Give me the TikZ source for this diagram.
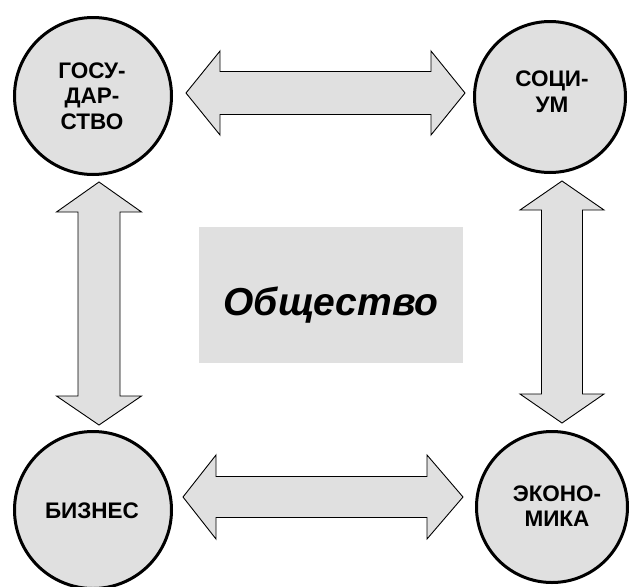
\documentclass[tikz,border=0pt]{standalone}
\usepackage{fontspec}
\setmainfont{Liberation Sans}
\definecolor{boxgray}{HTML}{E0E0E0}
\begin{document}
\begin{tikzpicture}[x=1pt,y=-1pt,
  sphere/.style={circle,draw=black,line width=3pt,fill=boxgray,inner sep=0pt,minimum size=#1},
  sphtext/.style={align=center,inner sep=0pt,font=\fontsize{22.5}{25.5}\selectfont\bfseries},
  bigarrow/.style={draw=black,line width=0.9pt,fill=boxgray,line join=miter},
  centerbox/.style={fill=boxgray,minimum width=264pt,minimum height=136pt,inner sep=0pt},
  boxtext/.style={inner sep=0pt,font=\fontsize{39}{46}\selectfont\bfseries\itshape}]
\useasboundingbox (0,0) rectangle (630,587);
\fill[white] (0,0) rectangle (630,587);
% central box
\node[centerbox] (soc) at (331,295) {};
\node[boxtext,anchor=base] (soct) at (331,315) {Общество};
% circles
\node[sphere=157pt] (gos) at (93,96) {};
\node[sphere=151pt] (sci) at (550,97) {};
\node[sphere=157pt] (biz) at (93,510) {};
\node[sphere=151pt] (eco) at (552,507) {};
\node[sphtext] (gost) at (92,96) {ГОСУ-\\ДАР-\\СТВО};
\node[sphtext] (scit) at (552,92) {СОЦИ-\\УМ};
\node[sphtext] (bizt) at (92,511) {БИЗНЕС};
\node[sphtext] (ecot) at (557,506) {ЭКОНО-\\МИКА};
% top horizontal double arrow
\draw[bigarrow] (186,93) -- (220,51) -- (220,71.5) -- (431,71.5) -- (431,51)
  -- (465,93) -- (431,135) -- (431,114.5) -- (220,114.5) -- (220,135) -- cycle;
% bottom horizontal double arrow
\draw[bigarrow] (183,497) -- (216,455) -- (216,476.5) -- (427,476.5) -- (427,455)
  -- (463,497) -- (427,539) -- (427,517.5) -- (216,517.5) -- (216,539) -- cycle;
% left vertical double arrow
\draw[bigarrow] (99,182) -- (141.5,212) -- (120,212) -- (120,396) -- (141.5,396)
  -- (99,425) -- (56.5,396) -- (78,396) -- (78,212) -- (56.5,212) -- cycle;
% right vertical double arrow
\draw[bigarrow] (562,181) -- (604,210) -- (582.5,210) -- (582.5,394) -- (604,394)
  -- (562,423) -- (520,394) -- (541.5,394) -- (541.5,210) -- (520,210) -- cycle;
\end{tikzpicture}
\end{document}
